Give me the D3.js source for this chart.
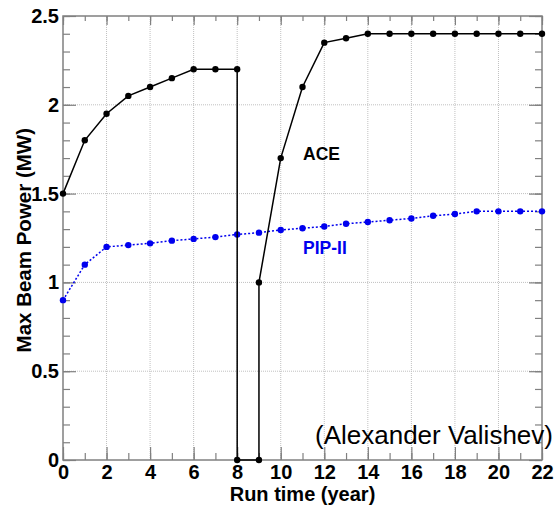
<!DOCTYPE html>
<html>
<head>
<meta charset="utf-8">
<script src="https://cdn.jsdelivr.net/npm/d3@7"></script>
<style>
  body { margin: 0; background: #fff; }
  text { font-family: "Liberation Sans", Arial, sans-serif; }
</style>
</head>
<body>
<div id="chart"></div>
<script>
// ACE ramp, shutdown in years 8-9, then ramp to 2.4 MW
const aceYears = [0, 1, 2, 3, 4, 5, 6, 7, 8, 8, 9, 9, 10, 11, 12, 13, 14, 15, 16, 17, 18, 19, 20, 21, 22];
const acePower = [1.5, 1.8, 1.95, 2.05, 2.1, 2.15, 2.2, 2.2, 2.2, 0, 0, 1.0, 1.7, 2.1, 2.35, 2.375, 2.4, 2.4, 2.4, 2.4, 2.4, 2.4, 2.4, 2.4, 2.4];

const pipYears = [0, 1, 2, 3, 4, 5, 6, 7, 8, 9, 10, 11, 12, 13, 14, 15, 16, 17, 18, 19, 20, 21, 22];
const pipPower = [0.9, 1.1, 1.2, 1.21, 1.22, 1.235, 1.245, 1.255, 1.27, 1.28, 1.295, 1.305, 1.315, 1.33, 1.34, 1.35, 1.36, 1.375, 1.385, 1.4, 1.4, 1.4, 1.4];

const xTicks = [0, 2, 4, 6, 8, 10, 12, 14, 16, 18, 20, 22];
const yTicks = [0, 0.5, 1, 1.5, 2, 2.5];
const yTickLabels = ["0", "0.5", "1", "1.5", "2", "2.5"];

const width = 555, height = 505;
const margin = { left: 63, right: 13, top: 16, bottom: 45 };

const svg = d3.select("#chart").append("svg")
    .attr("width", width)
    .attr("height", height);

const x = d3.scaleLinear().domain([0, 22]).range([margin.left, width - margin.right]);
const y = d3.scaleLinear().domain([0, 2.5]).range([height - margin.bottom, margin.top]);

const frameColor = "#808080";

// grid
svg.append("g").selectAll("line")
    .data(xTicks.slice(1, -1))
    .join("line")
    .attr("x1", d => x(d)).attr("x2", d => x(d))
    .attr("y1", y(0)).attr("y2", y(2.5))
    .attr("stroke", "#c0c0c0").attr("stroke-dasharray", "1,1");

svg.append("g").selectAll("line")
    .data(yTicks.slice(1, -1))
    .join("line")
    .attr("x1", x(0)).attr("x2", x(22))
    .attr("y1", d => y(d)).attr("y2", d => y(d))
    .attr("stroke", "#c0c0c0").attr("stroke-dasharray", "1,1");

// axes with ROOT-style inner ticks on all four sides
function styleAxis(g) {
    g.select(".domain").remove();
    g.selectAll(".tick line").attr("stroke", frameColor).attr("stroke-width", 1.2);
    g.selectAll("text")
        .attr("fill", "#000")
        .style("font-size", "20px")
        .style("font-weight", "bold")
        .style("font-family", "Liberation Sans, Arial, sans-serif");
}

const xMinor = d3.range(0, 23, 1);
const yMinor = d3.range(0, 26).map(d => d / 10);

svg.append("g")
    .attr("transform", `translate(0,${y(0)})`)
    .call(d3.axisBottom(x).tickValues(xMinor).tickSize(-7).tickFormat(""))
    .call(styleAxis);
svg.append("g")
    .attr("transform", `translate(0,${y(0)})`)
    .call(d3.axisBottom(x).tickValues(xTicks).tickSize(-13).tickFormat(d3.format("d")))
    .call(styleAxis)
    .call(g => g.selectAll("text").attr("dy", "0em").attr("y", 19));

svg.append("g")
    .attr("transform", `translate(0,${y(2.5)})`)
    .call(d3.axisTop(x).tickValues(xMinor).tickSize(-5).tickFormat(""))
    .call(styleAxis);
svg.append("g")
    .attr("transform", `translate(0,${y(2.5)})`)
    .call(d3.axisTop(x).tickValues(xTicks).tickSize(-9).tickFormat(""))
    .call(styleAxis);

svg.append("g")
    .attr("transform", `translate(${x(0)},0)`)
    .call(d3.axisLeft(y).tickValues(yMinor).tickSize(-7).tickFormat(""))
    .call(styleAxis);
svg.append("g")
    .attr("transform", `translate(${x(0)},0)`)
    .call(d3.axisLeft(y).tickValues(yTicks).tickSize(-13)
        .tickFormat((d, i) => yTickLabels[i]))
    .call(styleAxis)
    .call(g => g.selectAll("text").attr("x", -4));

svg.append("g")
    .attr("transform", `translate(${x(22)},0)`)
    .call(d3.axisRight(y).tickValues(yMinor).tickSize(-7).tickFormat(""))
    .call(styleAxis);
svg.append("g")
    .attr("transform", `translate(${x(22)},0)`)
    .call(d3.axisRight(y).tickValues(yTicks).tickSize(-13).tickFormat(""))
    .call(styleAxis);

// frame
svg.append("rect")
    .attr("x", x(0)).attr("y", y(2.5))
    .attr("width", x(22) - x(0)).attr("height", y(0) - y(2.5))
    .attr("fill", "none").attr("stroke", frameColor).attr("stroke-width", 1.5);

// series
const ace = aceYears.map((d, i) => ({ x: d, y: acePower[i] }));
const pip = pipYears.map((d, i) => ({ x: d, y: pipPower[i] }));

const line = d3.line().x(d => x(d.x)).y(d => y(d.y));

svg.append("path")
    .datum(pip)
    .attr("d", line)
    .attr("fill", "none")
    .attr("stroke", "#0000ee")
    .attr("stroke-width", 1.5)
    .attr("stroke-dasharray", "2,2");

svg.append("g").selectAll("circle")
    .data(pip)
    .join("circle")
    .attr("cx", d => x(d.x)).attr("cy", d => y(d.y))
    .attr("r", 3.2)
    .attr("fill", "#0000ee");

svg.append("path")
    .datum(ace)
    .attr("d", line)
    .attr("fill", "none")
    .attr("stroke", "#000")
    .attr("stroke-width", 1.5);

svg.append("g").selectAll("circle")
    .data(ace)
    .join("circle")
    .attr("cx", d => x(d.x)).attr("cy", d => y(d.y))
    .attr("r", 3.2)
    .attr("fill", "#000");

// labels
svg.append("text")
    .attr("x", 303).attr("y", 160)
    .style("font-size", "17.5px").style("font-weight", "bold")
    .attr("fill", "#000")
    .text("ACE");

svg.append("text")
    .attr("x", 303).attr("y", 254)
    .style("font-size", "17.5px").style("font-weight", "bold")
    .attr("fill", "#0000ee")
    .text("PIP-II");

svg.append("text")
    .attr("x", 315).attr("y", 444)
    .style("font-size", "26px")
    .attr("fill", "#000")
    .text("(Alexander Valishev)");

// axis titles
svg.append("text")
    .attr("x", (x(0) + x(22)) / 2).attr("y", 501)
    .attr("text-anchor", "middle")
    .style("font-size", "20px").style("font-weight", "bold")
    .text("Run time (year)");

svg.append("text")
    .attr("transform", `translate(31,128) rotate(-90)`)
    .attr("text-anchor", "end")
    .style("font-size", "20.5px").style("font-weight", "bold")
    .text("Max Beam Power (MW)");
</script>
</body>
</html>
